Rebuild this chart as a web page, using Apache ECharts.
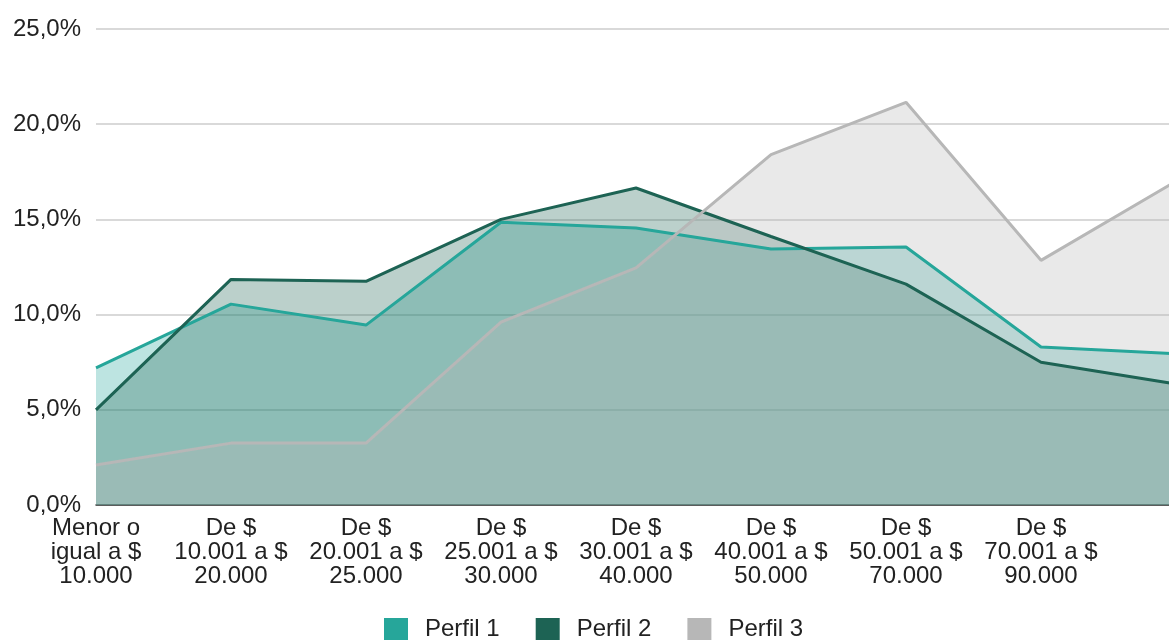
<!DOCTYPE html>
<html>
<head>
<meta charset="utf-8">
<script src="https://cdn.jsdelivr.net/npm/echarts@6/dist/echarts.min.js"></script>
<style>
  html, body { margin: 0; padding: 0; overflow: hidden; background: #fff; }
  #chart { width: 1180px; height: 640px; }
</style>
</head>
<body>
<div id="chart"></div>
<script>
// rangos de ingreso (el ultimo queda fuera del recorte)
const categorias = [
  'Menor o\nigual a $\n10.000',
  'De $\n10.001 a $\n20.000',
  'De $\n20.001 a $\n25.000',
  'De $\n25.001 a $\n30.000',
  'De $\n30.001 a $\n40.000',
  'De $\n40.001 a $\n50.000',
  'De $\n50.001 a $\n70.000',
  'De $\n70.001 a $\n90.000',
  'Más de $\n90.000'
]
const perfil1 = [7.2, 10.55, 9.45, 14.85, 14.55, 13.45, 13.55, 8.3, 7.95]
const perfil2 = [5.0, 11.85, 11.75, 15.0, 16.65, 14.1, 11.6, 7.5, 6.35]
const perfil3 = [2.1, 3.25, 3.25, 9.6, 12.45, 18.4, 21.15, 12.85, 17.0]
const nombres = ['Perfil 1', 'Perfil 2', 'Perfil 3']
const colores = ['#26a69a', '#1d6354', '#b7b7b7']

const fuente = 'Arial, "Liberation Sans", sans-serif'

const chart = echarts.init(document.getElementById('chart'))

const serie = (name, data, color) => ({
  name: name,
  type: 'line',
  data: data,
  symbol: 'none',
  lineStyle: { color: color, width: 3 },
  itemStyle: { color: color },
  areaStyle: { color: color, opacity: 0.3 }
})

const option = {
  animation: false,
  color: colores,
  grid: { left: 96, right: 4, top: 29, bottom: 135 },
  legend: {
    data: nombres,
    left: 379,
    top: 612,
    icon: 'rect',
    itemWidth: 24,
    itemHeight: 22,
    itemGap: 36,
    textStyle: {
      fontFamily: fuente,
      fontSize: 24,
      color: '#222',
      padding: [0, 0, 0, 12]
    }
  },
  xAxis: {
    type: 'category',
    boundaryGap: false,
    data: categorias,
    axisLine: { lineStyle: { color: '#333', width: 1.5 } },
    axisTick: { show: false },
    axisLabel: {
      interval: (i) => i < 8,
      margin: 11,
      fontFamily: fuente,
      fontSize: 24,
      lineHeight: 24,
      color: '#222',
      align: 'center'
    }
  },
  yAxis: {
    type: 'value',
    min: 0,
    max: 25,
    interval: 5,
    axisLine: { show: false },
    axisTick: { show: false },
    splitLine: { lineStyle: { color: '#cccccc', width: 1.5 } },
    axisLabel: {
      margin: 15,
      fontFamily: fuente,
      fontSize: 24,
      color: '#222',
      formatter: (v) => v.toFixed(1).replace('.', ',') + '%'
    }
  },
  series: [
    serie(nombres[0], perfil1, colores[0]),
    serie(nombres[1], perfil2, colores[1]),
    serie(nombres[2], perfil3, colores[2])
  ]
}

chart.setOption(option)
</script>
</body>
</html>
